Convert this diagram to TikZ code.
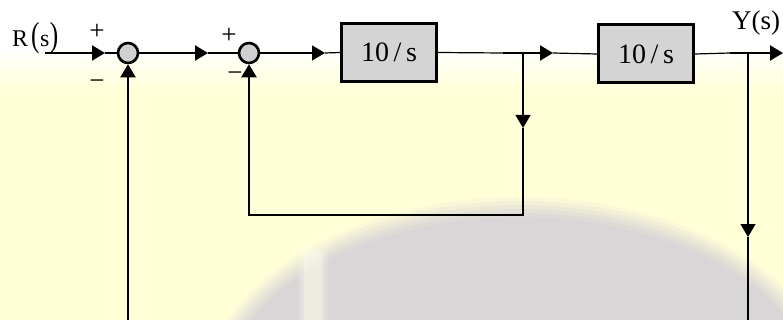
\documentclass[tikz,border=0pt]{standalone}
\usepackage{fontspec}
\setmainfont{Liberation Serif}
\usetikzlibrary{arrows.meta}
\definecolor{bgyellow}{RGB}{255,255,215}
\definecolor{blkfill}{RGB}{212,212,212}
\definecolor{sumfill}{RGB}{208,208,208}
\definecolor{wmgrey}{RGB}{215,212,216}
\tikzset{
  sig/.style={line width=1.2pt},
  sigthick/.style={line width=2.2pt},
  tip/.style={-{Triangle[length=13pt,width=15pt]}},
  blk/.style={draw, line width=3pt, fill=blkfill, minimum width=95pt,
    minimum height=58pt, inner sep=0pt, font=\fontsize{28}{32}\selectfont},
  sumc/.style={circle, draw, line width=2.6pt, fill=sumfill,
    minimum size=20pt, inner sep=0pt},
  sign/.style={inner sep=0pt, font=\fontsize{27}{30}\selectfont},
  lbl/.style={inner sep=0pt},
}
\newcommand{\tallparen}[1]{\scalebox{1.05}[1.45]{#1}}
\begin{document}
\begin{tikzpicture}[x=1pt,y=-1pt]
\useasboundingbox (0,0) rectangle (783,320);
% background: white fading into pale yellow
\fill[bgyellow] (0,0) rectangle (783,320);
\fill[white] (0,0) rectangle (783,48);
\shade[top color=white, bottom color=bgyellow] (0,48) rectangle (783,92);
% faint, soft-edged logo in the background
\begin{scope}
  \clip (0,0) rectangle (783,320);
  \foreach \r/\o in {18/0.15,14/0.2,10/0.25,6/0.3,2/0.4,-2/0.6}{
    \fill[wmgrey, opacity=\o] (520,400) ellipse [x radius=300+\r, y radius=185+\r];
  }
  \foreach \w/\o in {6/0.15,3/0.2,0/0.35}{
    \fill[white!60!bgyellow, opacity=\o] (304-\w,252-\w) rectangle (322+\w,320);
  }
\end{scope}

% blocks and summing junctions
\node[sumc] (s1) at (128,53) {};
\node[sumc] (s2) at (249,53) {};
\node[blk] (b1) at (389,52.5) {10\,/\,s};
\node[blk] (b2) at (646,54) {10\,/\,s};

% labels
\node[lbl, anchor=base west, font=\fontsize{24}{28}\selectfont] (rlab) at (12,47)
  {R\kern3pt\tallparen{(}\kern0.5pt s\kern0.5pt\tallparen{)}};
\node[lbl, anchor=base, font=\fontsize{27}{32}\selectfont] (ylab) at (756,30) {Y(s)};
\node[sign] (p1) at (97,32) {+};
\node[sign] (m1) at (97,85) {−};
\node[sign] (p2) at (229,36) {+};
\node[sign] (m2) at (235,77) {−};

% signal path coordinates
\coordinate (rin) at (45,53);
\coordinate (a1) at (105,53);
\coordinate (a2) at (208,53);
\coordinate (a3) at (325,53);
\coordinate (k1) at (503,53);
\coordinate (br1) at (523,53);
\coordinate (a4) at (553,53);
\coordinate (k2) at (730,53);
\coordinate (br2) at (748,53);
\coordinate (yout) at (783,53);
\coordinate (a5) at (523,128);
\coordinate (c1) at (523,215);
\coordinate (c2) at (249,215);
\coordinate (k3) at (249,115);
\coordinate (a6) at (748,237);
\coordinate (c3) at (748,320);
\coordinate (c4) at (128,320);
\coordinate (k4) at (128,115);

% forward path
\draw[sigthick, tip] (rin) -- (a1);
\draw[sig] (a1) -- (s1.west);
\draw[sigthick, tip] (s1.east) -- (a2);
\draw[sig] (a2) -- (s2.west);
\draw[sig, tip] (s2.east) -- (a3);
\draw[sig] (a3) -- (b1.west);
\draw[sig] (b1.east) -- (k1);
\draw[sigthick, tip] (k1) -- (a4);
\draw[sig] (a4) -- (b2.west);
\draw[sig] (b2.east) -- (k2);
\draw[sigthick, tip] (k2) -- (yout);

% inner feedback loop
\draw[sig, tip] (br1) -- (a5);
\draw[sig] (a5) -- (c1) -- (c2) -- (k3);
\draw[sigthick, tip] (k3) -- (s2.south);

% outer feedback loop
\draw[sig, tip] (br2) -- (a6);
\draw[sig] (a6) -- (c3);
\draw[sig] (c4) -- (k4);
\draw[sigthick, tip] (k4) -- (s1.south);
\end{tikzpicture}
\end{document}
